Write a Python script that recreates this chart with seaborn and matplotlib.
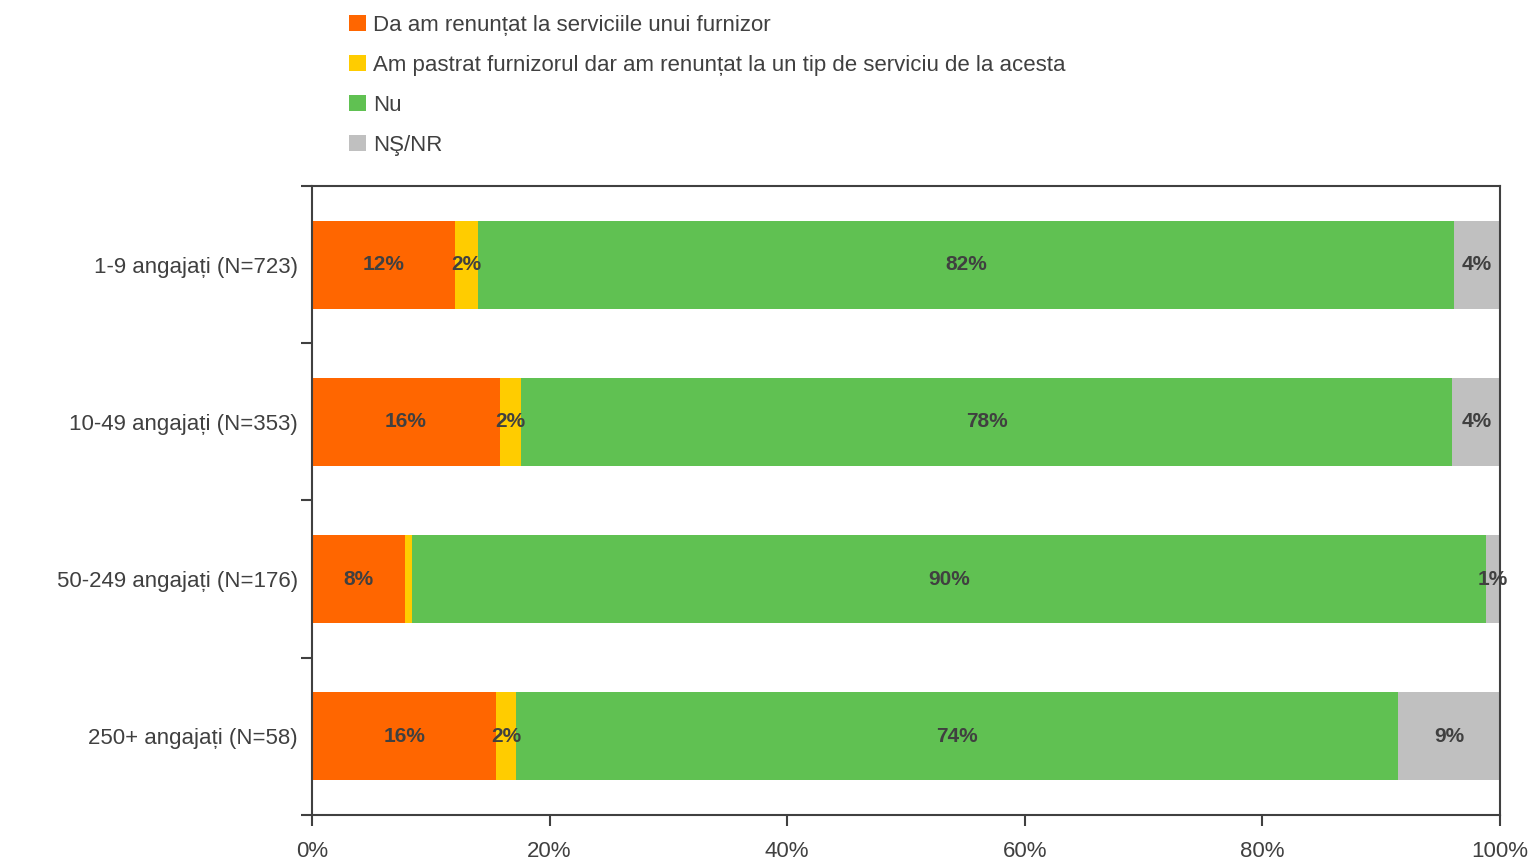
import numpy as np
import pandas as pd
import matplotlib
matplotlib.use("Agg")
import matplotlib.pyplot as plt
import seaborn as sns
from matplotlib.patches import Patch
from matplotlib.ticker import FixedLocator

# Categories (top to bottom)
CATEGORIES = [
    "1-9 angajați (N=723)",
    "10-49 angajați (N=353)",
    "50-249 angajați (N=176)",
    "250+ angajați (N=58)",
]

# Series values, in percent
SERIES = [
    "Da am renunțat la serviciile unui furnizor",
    "Am pastrat furnizorul dar am renunțat la un tip de serviciu de la acesta",
    "Nu",
    "NŞ/NR",
]
da_values = [12.0, 15.8, 7.8, 15.5]
pastrat_values = [2.0, 1.8, 0.6, 1.7]
nu_values = [82.1, 78.4, 90.4, 74.2]
nsnr_values = [3.9, 4.0, 1.2, 8.6]

COLORS = ["#FF6600", "#FFCC00", "#60C152", "#C0C0C0"]
TEXT = "#404040"

sns.set_style("white")
plt.rcParams["font.family"] = ["Liberation Sans", "DejaVu Sans"]

values = np.array([da_values, pastrat_values, nu_values, nsnr_values])
cum = values.cumsum(axis=0)

fig = plt.figure(figsize=(15.33, 8.63), dpi=100)
ax = fig.add_axes([312 / 1533, 1 - 815 / 863, 1188 / 1533, 629 / 863])

# draw stacked bars: largest cumulative first, then overlay smaller ones
for i in reversed(range(len(SERIES))):
    df = pd.DataFrame({"cat": CATEGORIES, "val": cum[i]})
    sns.barplot(data=df, x="val", y="cat", color=COLORS[i], orient="h",
                width=0.56, saturation=1, ax=ax, linewidth=0)

# data labels
for j in range(len(CATEGORIES)):
    for i in range(len(SERIES)):
        v = values[i, j]
        if v < 1:
            continue
        center = cum[i, j] - v / 2
        ax.text(center, j, f"{v:.0f}%", ha="center", va="center",
                fontsize=15, fontweight="bold", color=TEXT)

ax.set_xlim(0, 100)
ax.set_ylim(3.5, -0.5)
ax.set_xticks(np.arange(0, 101, 20))
ax.set_xticklabels([f"{t}%" for t in range(0, 101, 20)])
ax.set_xlabel("")
ax.set_ylabel("")

ax.yaxis.set_minor_locator(FixedLocator(np.arange(-0.5, 4, 1)))
ax.tick_params(axis="y", which="major", length=0, pad=10, labelsize=16,
               labelcolor=TEXT)
ax.tick_params(axis="y", which="minor", length=8, width=1.5, color=TEXT,
               direction="out", left=True)
ax.tick_params(axis="x", which="major", length=8, width=1.5, color=TEXT,
               direction="out", bottom=True, pad=11, labelsize=16,
               labelcolor=TEXT)

for s in ax.spines.values():
    s.set_visible(True)
    s.set_color(TEXT)
    s.set_linewidth(1.5)

handles = [Patch(facecolor=c, edgecolor="none") for c in COLORS]
fig.legend(handles, SERIES, loc="upper left",
           bbox_to_anchor=(340 / 1533, 1 - 6 / 863), frameon=False,
           fontsize=16, labelcolor=TEXT, handlelength=0.75,
           handleheight=0.75, handletextpad=0.35, labelspacing=0.85,
           borderaxespad=0)

fig.savefig("out.png", dpi=100)
